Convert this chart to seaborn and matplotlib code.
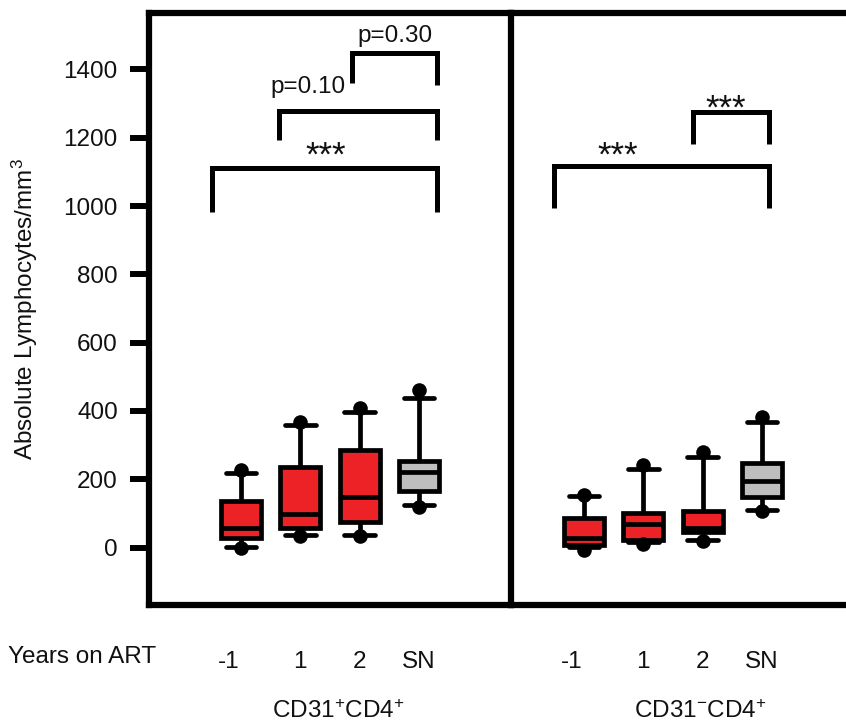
import numpy as np
import pandas as pd
import matplotlib
matplotlib.use("Agg")
import matplotlib.pyplot as plt
import seaborn as sns
from matplotlib.transforms import ScaledTranslation

# ---------------- data ----------------
times = ["-1", "1", "2", "SN"]

# CD31+CD4+
pos_lo = [3, 38, 38, 125]
pos_q1 = [27, 57, 74, 166]
pos_med = [57, 99, 147, 222]
pos_q3 = [137, 237, 286, 255]
pos_hi = [218, 360, 396, 437]
pos_dot_lo = [0, 35, 33, 118]
pos_dot_hi = [227, 369, 408, 460]

# CD31-CD4+
neg_lo = [3, 15, 22, 110]
neg_q1 = [8, 23, 45, 147]
neg_med = [27, 68, 58, 194]
neg_q3 = [86, 101, 108, 247]
neg_hi = [150, 230, 264, 367]
neg_dot_lo = [-7, 11, 20, 108]
neg_dot_hi = [154, 242, 281, 382]

box_colors = ["#EC2227", "#EC2227", "#EC2227", "#BEBEBE"]
yticks = [0, 200, 400, 600, 800, 1000, 1200, 1400]

# significance brackets: (x_left, x_right, y_top, y_left_end, y_right_end, label, label_x, label_y)
pos_brackets = [
    (-0.49, 3.30, 1111, 982, 982, "***", 1.42, 1119),
    (0.64, 3.30, 1278, 1193, 1193, "p=0.10", 1.13, 1330),
    (1.87, 3.30, 1447, 1359, 1354, "p=0.30", 2.60, 1480),
]
neg_brackets = [
    (-0.50, 3.12, 1117, 993, 993, "***", 0.56, 1117),
    (1.84, 3.12, 1276, 1181, 1181, "***", 2.38, 1256),
]


def long_frame(lo, q1, med, q3, hi):
    rows = []
    for t, a, b, c, d, e in zip(times, lo, q1, med, q3, hi):
        for v in (a, b, c, d, e):
            rows.append({"time": t, "value": v})
    return pd.DataFrame(rows)


def dot_frame(dlo, dhi):
    rows = []
    for t, a, b in zip(times, dlo, dhi):
        rows.append({"time": t, "value": a})
        rows.append({"time": t, "value": b})
    return pd.DataFrame(rows)


sns.set_style("white")
plt.rcParams["font.family"] = ["Liberation Sans", "DejaVu Sans"]
plt.rcParams["mathtext.fontset"] = "custom"
plt.rcParams["mathtext.rm"] = "Liberation Sans"
plt.rcParams["mathtext.it"] = "Liberation Sans"
plt.rcParams["mathtext.default"] = "regular"

FS = 17.5
W, H = 846, 727
fig = plt.figure(figsize=(W / 100, H / 100), dpi=100)

ax_l, ax_t, ax_b = 149, 13, 605
panel_w = 362
axR = fig.add_axes([(ax_l + panel_w) / W, (H - ax_b) / H, panel_w / W, (ax_b - ax_t) / H])
axL = fig.add_axes([ax_l / W, (H - ax_b) / H, panel_w / W, (ax_b - ax_t) / H])
axL.set_facecolor("none")
axR.set_facecolor("none")

panels = [
    (axL, long_frame(pos_lo, pos_q1, pos_med, pos_q3, pos_hi), dot_frame(pos_dot_lo, pos_dot_hi), pos_brackets, (-1.55, 4.55)),
    (axR, long_frame(neg_lo, neg_q1, neg_med, neg_q3, neg_hi), dot_frame(neg_dot_lo, neg_dot_hi), neg_brackets, (-1.23, 4.87)),
]

SP = 4.5
for ax, df, dots, brackets, xl in panels:
    sns.boxplot(data=df, x="time", y="value", hue="time", order=times, hue_order=times,
                palette=box_colors, whis=(0, 100), width=0.67, linewidth=3.4,
                linecolor="black", fliersize=0, legend=False, ax=ax,
                capwidths=0.52, saturation=1)
    sns.stripplot(data=dots, x="time", y="value", order=times, jitter=False,
                  color="black", size=10.5, linewidth=0, ax=ax)
    for (x1, x2, yt, yb1, yb2, lab, lx, ly) in brackets:
        ax.plot([x1, x1, x2, x2], [yb1, yt, yt, yb2], color="black", lw=3.6,
                solid_capstyle="butt", solid_joinstyle="miter", clip_on=False)
        fs = 25 if lab == "***" else FS
        ax.text(lx, ly, lab, ha="center", va="baseline", fontsize=fs, color="#111111")
    ax.set_xlim(*xl)
    ax.set_ylim(-168, 1565)
    ax.set_xlabel("")
    ax.set_ylabel("")
    for s in ax.spines.values():
        s.set_linewidth(SP)
        s.set_color("black")
    ax.tick_params(axis="x", length=0, pad=33, labelsize=FS, colors="#111111")

axL.set_yticks(yticks)
axL.tick_params(axis="y", direction="out", length=13.5, width=4.3, pad=9,
                labelsize=FS, colors="black", labelcolor="#111111", left=True)
axL.set_ylabel("Absolute Lymphocytes/mm$^{3}$", fontsize=FS, labelpad=17, color="#111111")
axR.set_yticks([])
axR.spines["left"].set_visible(False)

# shift the "-1" labels so the digit sits under the box
for ax in (axL, axR):
    labs = ax.get_xticklabels()
    labs[0].set_transform(labs[0].get_transform() + ScaledTranslation(-0.12, 0, fig.dpi_scale_trans))

fig.text(8 / W, 1 - 657 / H, "Years on ART", ha="left", va="center", fontsize=FS, color="#111111")
fig.text(338 / W, 1 - 712 / H, "CD31$^{+}$CD4$^{+}$", ha="center", va="center", fontsize=FS, color="#111111")
fig.text(700 / W, 1 - 712 / H, "CD31$^{-}$CD4$^{+}$", ha="center", va="center", fontsize=FS, color="#111111")

fig.savefig("out.png", dpi=100)
